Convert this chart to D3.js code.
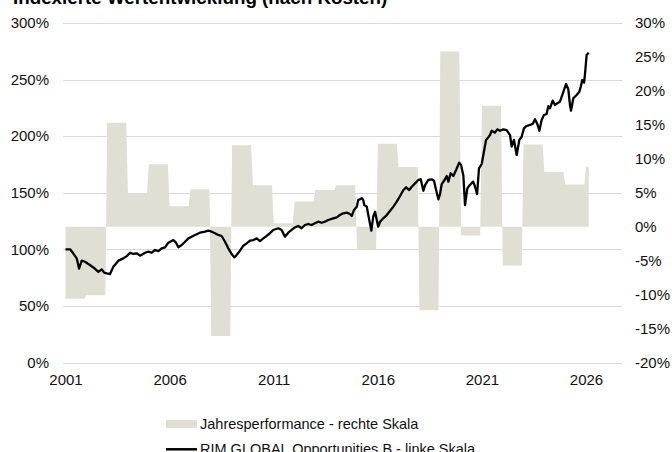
<!DOCTYPE html>
<html>
<head>
<meta charset="utf-8">
<script src="https://cdn.jsdelivr.net/npm/d3@7"></script>
<style>
  body { margin: 0; background: #fff; }
  svg { display: block; font-family: "Liberation Sans", Arial, sans-serif; }
</style>
</head>
<body>
<svg width="672" height="452"></svg>
<script>
// yearly performance (right scale, %)
const barYears = [2001, 2002, 2003, 2004, 2005, 2006, 2007, 2008, 2009, 2010, 2011, 2012, 2013,
                  2014, 2015, 2016, 2017, 2018, 2019, 2020, 2021, 2022, 2023, 2024, 2025, 2026];
const barValues = [-10.6, -10.1, 15.3, 4.9, 9.2, 3.0, 5.5, -16.1, 12.0, 6.1, 0.5, 3.7, 5.4,
                   6.1, -3.4, 12.2, 8.8, -12.3, 25.8, -1.3, 17.8, -5.7, 12.1, 8.1, 6.2, 8.8];

// indexed fund value (left scale, %), dates as decimal years
const navDates = [2001.00, 2001.22, 2001.37, 2001.54, 2001.65, 2001.78, 2001.94, 2002.10, 2002.34, 2002.58,
  2002.74, 2002.86, 2002.98, 2003.14, 2003.30, 2003.54, 2003.78, 2003.94, 2004.10, 2004.26,
  2004.42, 2004.58, 2004.82, 2004.98, 2005.14, 2005.30, 2005.46, 2005.62, 2005.78, 2005.94,
  2006.18, 2006.31, 2006.42, 2006.58, 2006.74, 2006.90, 2007.06, 2007.22, 2007.46, 2007.70,
  2007.86, 2008.02, 2008.18, 2008.34, 2008.50, 2008.66, 2008.82, 2008.98, 2009.11, 2009.22,
  2009.38, 2009.54, 2009.70, 2009.86, 2010.02, 2010.18, 2010.34, 2010.50, 2010.66, 2010.82,
  2010.98, 2011.22, 2011.38, 2011.54, 2011.70, 2011.86, 2012.02, 2012.18, 2012.34, 2012.50,
  2012.66, 2012.82, 2012.98, 2013.14, 2013.30, 2013.46, 2013.62, 2013.86, 2014.03, 2014.18,
  2014.34, 2014.51, 2014.66, 2014.75, 2014.86, 2014.99, 2015.06, 2015.14, 2015.23, 2015.30,
  2015.35, 2015.47, 2015.59, 2015.69, 2015.78, 2015.87, 2015.95, 2016.02, 2016.11, 2016.26,
  2016.43, 2016.59, 2016.75, 2016.91, 2017.07, 2017.23, 2017.36, 2017.51, 2017.63, 2017.79,
  2017.95, 2018.06, 2018.19, 2018.27, 2018.43, 2018.59, 2018.70, 2018.80, 2018.91, 2018.99,
  2019.07, 2019.23, 2019.31, 2019.39, 2019.50, 2019.63, 2019.76, 2019.91, 2020.00, 2020.11,
  2020.19, 2020.30, 2020.42, 2020.58, 2020.66, 2020.77, 2020.86, 2020.99, 2021.07, 2021.20,
  2021.31, 2021.39, 2021.47, 2021.63, 2021.74, 2021.87, 2022.03, 2022.19, 2022.35, 2022.43,
  2022.54, 2022.67, 2022.80, 2022.91, 2023.02, 2023.15, 2023.31, 2023.44, 2023.55, 2023.66,
  2023.76, 2023.87, 2023.98, 2024.11, 2024.19, 2024.27, 2024.40, 2024.51, 2024.62, 2024.75,
  2024.88, 2025.04, 2025.15, 2025.23, 2025.28, 2025.39, 2025.55, 2025.68, 2025.75, 2025.82,
  2025.91, 2025.97, 2026.03, 2026.13];
const navValues = [100, 100, 96.5, 92, 83, 90, 89, 87, 84, 80,
  82.3, 79.4, 78.8, 78.2, 84.7, 90, 92, 94, 97, 95.9,
  96.5, 94.4, 97, 97.9, 97, 99.4, 98.5, 100.9, 101.8, 105.9,
  108.2, 105.9, 101.8, 103.8, 106.7, 109.7, 111.2, 112.7, 114.7, 115.6,
  116.5, 115.6, 114.2, 112.7, 111.8, 106.7, 100.9, 95.9, 92.9, 95,
  98.8, 103.2, 105.3, 107.6, 108.2, 109.7, 107.3, 109.7, 111.8, 114.2,
  117.1, 118.6, 117.1, 111.2, 114.7, 117.1, 119.4, 120.6, 118.6, 121.5,
  122.4, 121.5, 123, 124.4, 123.5, 124.4, 125.9, 127.4, 128.3, 130.3,
  131.8, 132.4, 131.2, 129.5, 134.8, 137.7, 143.6, 144.2, 145.1, 143.6,
  139.2, 137.7, 125.9, 116.5, 128.8, 133.2, 125.9, 120, 124.4, 127.4,
  130.3, 134.1, 137.7, 142.1, 147.1, 152.4, 154.8, 152.4, 155.3, 158.3,
  161.3, 161.9, 151.8, 156.8, 161.3, 161.9, 160.6, 152.4, 144.2, 148.9,
  157.7, 161.9, 164.8, 159.8, 167.2, 164.8, 170.1, 176.6, 174.5, 165,
  139, 153.9, 156.8, 159.8, 156, 148.9, 171.6, 175.4, 183.4, 196.7,
  199, 201, 204.8, 203.1, 206, 204.8, 206, 205.4, 201, 190.7,
  196.7, 183.4, 196.7, 199.5, 206.9, 209, 209.9, 210.8, 214.9, 210.8,
  204.8, 214.3, 218.7, 219.6, 226.6, 224.6, 231.4, 227.6, 229.1, 230.5,
  237.3, 246.1, 241.4, 227.6, 222.5, 233.5, 236.4, 239.3, 243.7, 249.6,
  247.3, 258.5, 271.7, 273.7];

const leftTicks = [0, 50, 100, 150, 200, 250, 300];
const rightTicks = [-20, -15, -10, -5, 0, 5, 10, 15, 20, 25, 30];
const xTickYears = [2001, 2006, 2011, 2016, 2021, 2026];

const svg = d3.select("svg");
const plotLeft = 63, plotRight = 622;
const barColor = "#e0dfd3";

const x = d3.scaleLinear().domain([2001, 2026]).range([65.5, 586]);
const yL = d3.scaleLinear().domain([0, 300]).range([362.5, 23]);
const yR = d3.scaleLinear().domain([-20, 30]).range([362.5, 23]);

// title (partly outside the top edge, like the source)
svg.append("text")
    .attr("x", 13)
    .attr("y", 4)
    .attr("font-weight", "bold")
    .attr("font-size", 18.8)
    .attr("fill", "#000")
    .text("Indexierte Wertentwicklung (nach Kosten)");

// gridlines
svg.append("g")
    .selectAll("line")
    .data(leftTicks)
    .enter()
    .append("line")
    .attr("x1", plotLeft)
    .attr("x2", plotRight)
    .attr("y1", d => Math.round(yL(d)) + 0.5)
    .attr("y2", d => Math.round(yL(d)) + 0.5)
    .attr("stroke", "#d9d9d9")
    .attr("stroke-width", 1);

// yearly performance as a stepped area (one flat segment per year)
const lastDate = navDates[navDates.length - 1];
const barPoints = [];
barYears.forEach((yr, i) => {
    barPoints.push([yr, barValues[i]]);
    barPoints.push([Math.min(yr + 11 / 12, lastDate), barValues[i]]);
});

svg.append("path")
    .datum(barPoints)
    .attr("fill", barColor)
    .attr("d", d3.area()
        .x(d => x(d[0]))
        .y0(yR(0))
        .y1(d => yR(d[1])));

// fund line
const navPoints = navDates.map((d, i) => [d, navValues[i]]);
svg.append("path")
    .datum(navPoints)
    .attr("fill", "none")
    .attr("stroke", "#000")
    .attr("stroke-width", 2.3)
    .attr("stroke-linejoin", "round")
    .attr("d", d3.line()
        .x(d => x(d[0]))
        .y(d => yL(d[1])));

// axes
const leftAxis = svg.append("g")
    .attr("transform", `translate(${plotLeft},0)`)
    .call(d3.axisLeft(yL).tickValues(leftTicks).tickFormat(d => d + "%").tickSize(0).tickPadding(14));

const rightAxis = svg.append("g")
    .attr("transform", `translate(${plotRight},0)`)
    .call(d3.axisRight(yR).tickValues(rightTicks).tickFormat(d => d + "%").tickSize(0).tickPadding(13));

const bottomAxis = svg.append("g")
    .attr("transform", `translate(0,${yL(0)})`)
    .call(d3.axisBottom(x).tickValues(xTickYears).tickFormat(d3.format("d")).tickSize(0).tickPadding(12));

[leftAxis, rightAxis, bottomAxis].forEach(a => {
    a.select(".domain").remove();
    a.selectAll("text")
        .attr("font-family", "Liberation Sans, Arial, sans-serif")
        .attr("font-size", 15)
        .attr("fill", "#111");
});

// legend
const legend = svg.append("g").attr("font-size", 14.5).attr("fill", "#111");

legend.append("rect")
    .attr("x", 166)
    .attr("y", 420)
    .attr("width", 31)
    .attr("height", 8)
    .attr("fill", barColor);

legend.append("text")
    .attr("x", 200)
    .attr("y", 428.5)
    .text("Jahresperformance - rechte Skala");

legend.append("line")
    .attr("x1", 166)
    .attr("x2", 197)
    .attr("y1", 449.3)
    .attr("y2", 449.3)
    .attr("stroke", "#000")
    .attr("stroke-width", 2.5);

legend.append("text")
    .attr("x", 200)
    .attr("y", 453.5)
    .text("RIM GLOBAL Opportunities B - linke Skala");
</script>
</body>
</html>
